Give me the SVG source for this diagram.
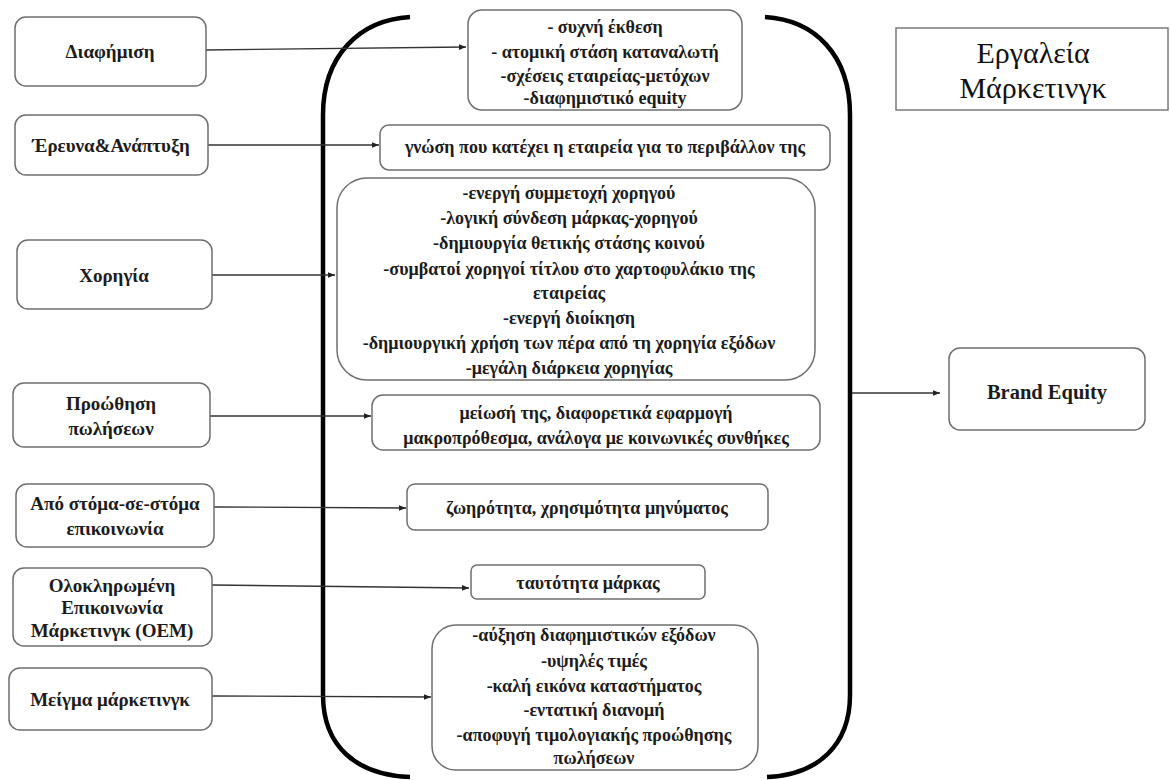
<svg xmlns="http://www.w3.org/2000/svg" width="1170" height="780" viewBox="0 0 1170 780">
<defs>
<style>
.box{fill:#fff;stroke:#6f6f6f;stroke-width:1.5}
.t{font-family:'Liberation Serif','Times New Roman',Tinos,'Noto Serif',FreeSerif,'DejaVu Serif',serif;font-weight:bold;fill:#1c1c1c;text-anchor:middle}
.l{font-size:19px}
.m{font-size:18px}
.title{font-family:'Liberation Serif','Times New Roman',Tinos,'Noto Serif',FreeSerif,serif;font-size:30px;fill:#111;text-anchor:middle}
.c{fill:none;stroke:#333;stroke-width:1.3;marker-end:url(#ah)}
.br{fill:none;stroke:#000;stroke-width:4.5;stroke-linecap:butt}
</style>
<marker id="ah" viewBox="0 0 10 10" refX="10" refY="5" markerWidth="7" markerHeight="7" markerUnits="userSpaceOnUse" orient="auto">
<path d="M0,1 L10,5 L0,9 z" fill="#222"/>
</marker>
</defs>
<rect width="1170" height="780" fill="#fff"/>

<g id="brackets">
<path class="br" d="M410,17 C360,20 323,55 323,115 L323,695 C323,745 355,775 410,777"/>
<path class="br" d="M765,17 C815,20 850,55 850,115 L850,695 C850,745 818,775 767,777"/>
</g>

<g id="connectors">
<path class="c" d="M206,50 L466,47"/>
<path class="c" d="M208,145 L379,145"/>
<path class="c" d="M212,275 L335,275"/>
<path class="c" d="M210,416 L371,416"/>
<path class="c" d="M214,507 L406,508"/>
<path class="c" d="M212,585 L469,588"/>
<path class="c" d="M212,696 L431,697"/>
<path class="c" d="M852,393 L940,393"/>
</g>

<g id="n-diafimisi">
<rect class="box" x="15" y="17" width="191" height="69" rx="11"/>
<text class="t l" x="110" y="58">Διαφήμιση</text>
</g>
<g id="n-ereuna">
<rect class="box" x="15" y="115" width="193" height="60" rx="11"/>
<text class="t l" x="111" y="152">Έρευνα&amp;Ανάπτυξη</text>
</g>
<g id="n-xorigia">
<rect class="box" x="17" y="240" width="195" height="69" rx="11"/>
<text class="t l" x="114" y="282">Χορηγία</text>
</g>
<g id="n-proothisi">
<rect class="box" x="13" y="383" width="197" height="64" rx="11"/>
<text class="t l" x="111" y="410">Προώθηση</text>
<text class="t l" x="111" y="435">πωλήσεων</text>
</g>
<g id="n-stoma">
<rect class="box" x="16" y="484" width="198" height="63" rx="11"/>
<text class="t l" x="115" y="510">Από στόμα-σε-στόμα</text>
<text class="t l" x="115" y="535">επικοινωνία</text>
</g>
<g id="n-oem">
<rect class="box" x="13" y="568" width="199" height="78" rx="11"/>
<text class="t l" x="112" y="592">Ολοκληρωμένη</text>
<text class="t l" x="112" y="614">Επικοινωνία</text>
<text class="t l" x="112" y="637">Μάρκετινγκ (ΟΕΜ)</text>
</g>
<g id="n-meigma">
<rect class="box" x="9" y="668" width="203" height="62" rx="11"/>
<text class="t l" x="110" y="706">Μείγμα μάρκετινγκ</text>
</g>

<g id="m-diafimisi">
<rect class="box" x="468" y="10" width="274" height="100" rx="14"/>
<text class="t m" x="605" y="33">- συχνή έκθεση</text>
<text class="t m" x="605" y="58">- ατομική στάση καταναλωτή</text>
<text class="t m" x="605" y="82">-σχέσεις εταιρείας-μετόχων</text>
<text class="t m" x="605" y="104">-διαφημιστικό equity</text>
</g>
<g id="m-ereuna">
<rect class="box" x="380" y="125" width="450" height="45" rx="9"/>
<text class="t m" x="605" y="153">γνώση που κατέχει η εταιρεία για το περιβάλλον της</text>
</g>
<g id="m-xorigia">
<rect class="box" x="337" y="178" width="478" height="202" rx="30"/>
<text class="t m" x="569" y="199">-ενεργή συμμετοχή χορηγού</text>
<text class="t m" x="569" y="224">-λογική σύνδεση μάρκας-χορηγού</text>
<text class="t m" x="569" y="249">-δημιουργία θετικής στάσης κοινού</text>
<text class="t m" x="569" y="275">-συμβατοί χορηγοί τίτλου στο χαρτοφυλάκιο της</text>
<text class="t m" x="569" y="299">εταιρείας</text>
<text class="t m" x="569" y="324">-ενεργή διοίκηση</text>
<text class="t m" x="569" y="349">-δημιουργική χρήση των πέρα από τη χορηγία εξόδων</text>
<text class="t m" x="569" y="374">-μεγάλη διάρκεια χορηγίας</text>
</g>
<g id="m-proothisi">
<rect class="box" x="372" y="395" width="448" height="55" rx="11"/>
<text class="t m" x="596" y="419">μείωσή της, διαφορετικά εφαρμογή</text>
<text class="t m" x="596" y="444">μακροπρόθεσμα, ανάλογα με κοινωνικές συνθήκες</text>
</g>
<g id="m-stoma">
<rect class="box" x="407" y="484" width="361" height="46" rx="8"/>
<text class="t m" x="587" y="514">ζωηρότητα, χρησιμότητα μηνύματος</text>
</g>
<g id="m-oem">
<rect class="box" x="471" y="565" width="234" height="34" rx="6"/>
<text class="t m" x="588" y="589">ταυτότητα μάρκας</text>
</g>
<g id="m-meigma">
<rect class="box" x="432" y="625" width="326" height="145" rx="24"/>
<text class="t m" x="594" y="641">-αύξηση διαφημιστικών εξόδων</text>
<text class="t m" x="594" y="667">-υψηλές τιμές</text>
<text class="t m" x="594" y="692">-καλή εικόνα καταστήματος</text>
<text class="t m" x="594" y="716">-εντατική διανομή</text>
<text class="t m" x="594" y="741">-αποφυγή τιμολογιακής προώθησης</text>
<text class="t m" x="594" y="764">πωλήσεων</text>
</g>

<g id="title">
<rect x="896" y="28" width="272" height="82" fill="#fff" stroke="#7a7a7a" stroke-width="1.5"/>
<text class="title" x="1033" y="63">Εργαλεία</text>
<text class="title" x="1033" y="98">Μάρκετινγκ</text>
</g>

<g id="brand-equity">
<rect class="box" x="949" y="348" width="196" height="82" rx="11"/>
<text class="t" font-size="20.5" x="1047" y="399">Brand Equity</text>
</g>
</svg>
